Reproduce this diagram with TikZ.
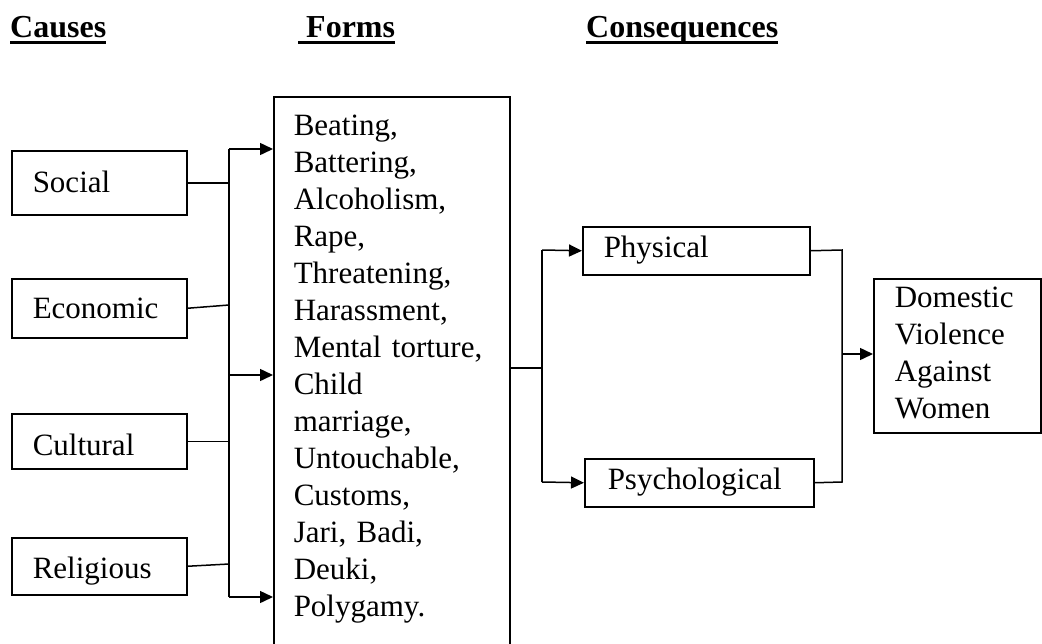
\documentclass[tikz,border=0pt]{standalone}
\usepackage{fontspec}
\setmainfont{Liberation Serif}
\usetikzlibrary{arrows.meta}
\tikzset{
  txt/.style={font=\fontsize{31}{37}\selectfont},
  head/.style={font=\bfseries\fontsize{32}{38}\selectfont, anchor=base west, inner sep=0pt},
  uline/.style={line width=3pt},
  bx/.style={txt, draw, line width=1.5pt, anchor=north west, inner ysep=0pt, align=left},
  conn/.style={line width=1.5pt},
  arr/.style={line width=1.5pt, -{Triangle[length=13pt,width=12pt]}},
}
\begin{document}
\begin{tikzpicture}[x=1pt,y=-1pt]
\useasboundingbox (0,0) rectangle (1042,643);
\clip (0,0) rectangle (1042,643);

% headings
\node[head] (hc) at (10,37) {Causes};
\node[head] (hf) at (298,37) {\ Forms};
\node[head] (hq) at (586,37) {Consequences};
\draw[uline] ([yshift=-5pt]hc.base west) -- ([yshift=-5pt]hc.base east);
\draw[uline] ([yshift=-5pt]hf.base west) -- ([yshift=-5pt]hf.base east);
\draw[uline] ([yshift=-5pt]hq.base west) -- ([yshift=-5pt]hq.base east);

% causes
\node[bx, inner xsep=21pt, text width=133pt, text height=42pt, text depth=22pt] (social) at (11,150) {Social};
\node[bx, inner xsep=21pt, text width=133pt, text height=40pt, text depth=19pt] (economic) at (11,278) {Economic};
\node[bx, inner xsep=21pt, text width=133pt, text height=42pt, text depth=13pt] (cultural) at (11,413) {Cultural};
\node[bx, inner xsep=21pt, text width=133pt, text height=41pt, text depth=16pt] (religious) at (11,537) {Religious};

% forms
\node[bx, inner xsep=20pt, text width=196pt, text height=39pt, text depth=620pt] (forms) at (273,96)
  {Beating,\\Battering,\\Alcoholism,\\Rape,\\Threatening,\\Harassment,\\Mental torture,\\Child\\marriage,\\Untouchable,\\Customs,\\Jari, Badi,\\Deuki,\\Polygamy.};

% consequences
\node[bx, inner xsep=21pt, text width=185pt, text height=31pt, text depth=17pt] (physical) at (582,226) {Physical};
\node[bx, inner xsep=23pt, text width=183pt, text height=31pt, text depth=17pt] (psych) at (584,458) {Psychological};

% result
\node[bx, inner xsep=21pt, text width=125pt, text height=29pt, text depth=125pt] (dv) at (873,278)
  {Domestic\\Violence\\Against\\Women};

% left bus
\coordinate (b1) at (229,149);
\coordinate (b2) at (229,375);
\coordinate (b3) at (229,597);
\coordinate (e1) at (229,305);
\coordinate (g1) at (229,564);
\draw[conn] (b1) -- (b3);
\draw[conn] (social.east) -- (social.east -| b1);
\draw[conn] (economic.east) -- (e1);
\draw[conn] (cultural.east) -- (cultural.east -| b1);
\draw[conn] (religious.east) -- (g1);
\draw[arr] (b1) -- (forms.west |- b1);
\draw[arr] (b2) -- (forms.west |- b2);
\draw[arr] (b3) -- (forms.west |- b3);

% middle bus
\coordinate (m) at (542,368);
\coordinate (m1) at (542,250);
\coordinate (m2) at (542,482);
\draw[conn] (forms.east |- m) -- (m);
\draw[conn] (m1) -- (m2);
\draw[arr] (m1) -- (physical.west);
\draw[arr] (m2) -- (psych.west);

% right bus
\coordinate (r1) at (842,250);
\coordinate (r2) at (842,482);
\coordinate (r) at (842,354);
\draw[conn] (physical.east) -- (r1) -- (r2) -- (psych.east);
\draw[arr] (r) -- (dv.west |- r);
\end{tikzpicture}
\end{document}
